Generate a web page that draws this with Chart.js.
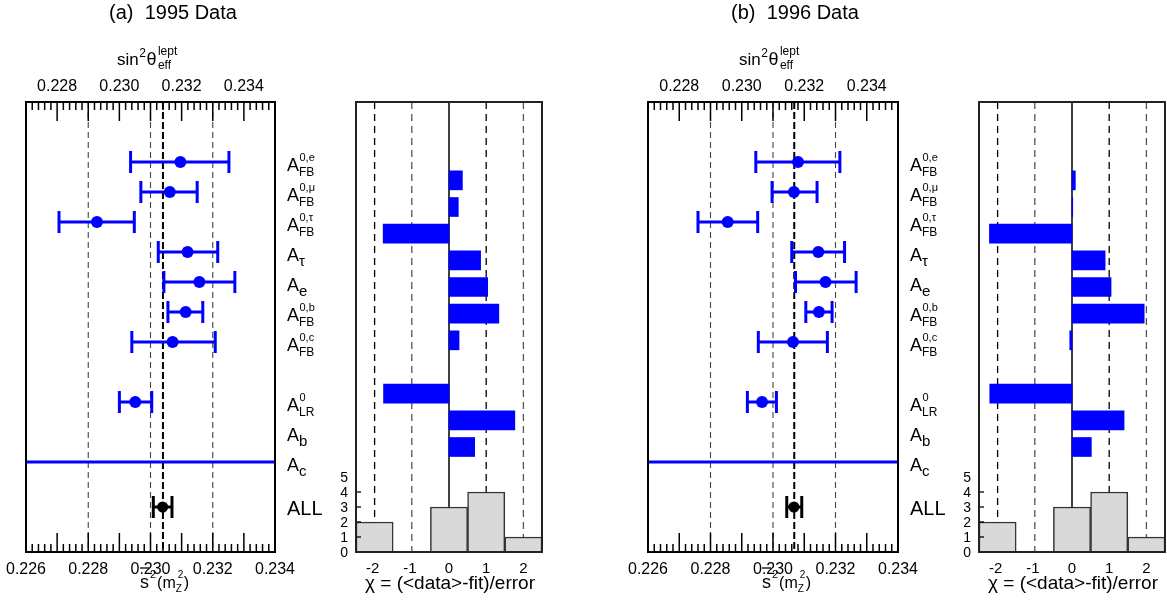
<!DOCTYPE html>
<html><head><meta charset="utf-8">
<script src="https://cdn.jsdelivr.net/npm/chart.js@4"></script>
<style>
html,body{margin:0;padding:0;background:#fff;}
#wrap{position:relative;width:1167px;height:605px;overflow:hidden;background:#fff;}
canvas{position:absolute;left:0;top:0;}
</style></head><body><div id="wrap">
<canvas id="la" width="1167" height="605"></canvas>
<canvas id="ca" width="1167" height="605"></canvas>
<canvas id="ha" width="1167" height="605"></canvas>
<canvas id="lb" width="1167" height="605"></canvas>
<canvas id="cb" width="1167" height="605"></canvas>
<canvas id="hb" width="1167" height="605"></canvas>
</div>
<script>
// ---------------- DATA ----------------
const panelTitles = ['(a)  1995 Data', '(b)  1996 Data'];
const rowLabelBase = ['A','A','A','A','A','A','A','A','A','A','ALL'];
const rowLabelSup  = ['0,e','0,\u03bc','0,\u03c4','','','0,b','0,c','0','','',''];
const rowLabelSub  = ['FB','FB','FB','\u03c4','e','FB','FB','LR','b','c',''];
const rowPositions = [0,1,2,3,4,5,6,8,9,10,11.5];

// s^2 values and error bar ends (null = off scale)
const s2_1995   = [0.23096,0.23062,0.22828,0.23119,0.23157,0.23113,0.23071,0.22951,null,null,0.23039];
const s2Lo_1995 = [0.22936,0.22969,0.22706,0.23025,0.23043,0.23056,0.22940,0.22900,null,0.2150,0.23009];
const s2Hi_1995 = [0.23252,0.23150,0.22948,0.23216,0.23271,0.23168,0.23208,0.23004,null,0.2450,0.23069];
const fit_1995  = 0.23040;

const s2_1996   = [0.23080,0.23067,0.22855,0.23145,0.23168,0.23147,0.23064,0.22965,null,null,0.23067];
const s2Lo_1996 = [0.22945,0.22997,0.22760,0.23060,0.23072,0.23105,0.22953,0.22918,null,0.2150,0.23044];
const s2Hi_1996 = [0.23214,0.23141,0.22951,0.23229,0.23266,0.23189,0.23174,0.23011,null,0.2450,0.23092];
const fit_1996  = 0.23068;

// pulls chi = (<data>-fit)/error, rows 0..9
const chi_1995 = [0.36,0.25,-1.77,0.85,1.04,1.34,0.27,-1.76,1.77,0.69];
const chi_1996 = [0.09,0.02,-2.22,0.89,1.05,1.94,-0.06,-2.21,1.40,0.52];

// histogram of chi
const histLabels = ['-2','-1','0','1','2'];
const hist_1995 = [2,0,3,4,1];
const hist_1996 = [2,0,3,4,1];

// axis tick labels
const s2GridLines   = [0.228,0.230,0.232];
const bottomTicks   = [0.226,0.228,0.230,0.232,0.234];
const topTicks      = [0.228,0.230,0.232,0.234];
const chiTicks      = [-2,-1,0,1,2];
const countTicks    = [0,1,2,3,4,5];

// ---------------- LAYOUT ----------------
const W = 1167, H = 605;
const TOP = 102, BOT = 552, HIST_TOP = 477;
const panels = [
  {l:26,  r:275, cl:356, cr:542,  vals:s2_1995, lo:s2Lo_1995, hi:s2Hi_1995, fit:fit_1995, chi:chi_1995, hist:hist_1995, title:panelTitles[0], ids:['la','ca','ha']},
  {l:648, r:898, cl:979, cr:1165, vals:s2_1996, lo:s2Lo_1996, hi:s2Hi_1996, fit:fit_1996, chi:chi_1996, hist:hist_1996, title:panelTitles[1], ids:['lb','cb','hb']}
];
const FONT = '"Liberation Sans", Arial, Helvetica, sans-serif';
const BLUE = '#0000ff';

function line(ctx,x1,y1,x2,y2){ctx.beginPath();ctx.moveTo(x1,y1);ctx.lineTo(x2,y2);ctx.stroke();}
function text(ctx,s,x,y,size,align){ctx.font=size+'px '+FONT;ctx.textAlign=align||'left';ctx.textBaseline='alphabetic';ctx.fillStyle='#000';ctx.fillText(s,x,y);return ctx.measureText(s).width;}

function rowLabel(ctx,x,y,i){
  const base=rowLabelBase[i], sup=rowLabelSup[i], sub=rowLabelSub[i];
  if(base==='ALL'){ text(ctx,base,x,y+8,20); return; }
  const w = text(ctx,base,x,y+8.5,18);
  if(sup) text(ctx,sup,x+w+0.5,y-1.5,11);
  if(sub){ if(sub.length>1) text(ctx,sub,x+w,y+14,12); else text(ctx,sub,x+w,y+14,15); }
}

const common = {animation:false,responsive:false,devicePixelRatio:1,events:[],
  plugins:{legend:{display:false},tooltip:{enabled:false},title:{display:false}}};

function pts(vals,from,to){const o=[];for(let i=from;i<to;i++){if(vals[i]!=null)o.push({x:vals[i],y:rowPositions[i]});}return o;}

panels.forEach(p=>{
  // ---------- left s^2 panel ----------
  const leftPlugin = {
    id:'leftPanel',
    beforeDatasetsDraw(chart){
      const {ctx,chartArea:a,scales:{x,y}} = chart;
      ctx.save();
      ctx.beginPath();ctx.rect(a.left,a.top,a.right-a.left,a.bottom-a.top);ctx.clip();
      ctx.setLineDash([6,4]);ctx.strokeStyle='#444';ctx.lineWidth=1.1;
      s2GridLines.forEach(v=>{const px=x.getPixelForValue(v);line(ctx,px,a.top,px,a.bottom);});
      ctx.setLineDash([7,3]);ctx.strokeStyle='#000';ctx.lineWidth=2;
      const fx=x.getPixelForValue(p.fit);line(ctx,fx,a.top,fx,a.bottom);
      ctx.setLineDash([]);
      rowPositions.forEach((r,i)=>{
        if(p.lo[i]==null)return;
        const py=y.getPixelForValue(r);
        const xl=x.getPixelForValue(p.lo[i]), xr=x.getPixelForValue(p.hi[i]);
        ctx.strokeStyle = i===10?'#000':BLUE; ctx.lineWidth=3;
        line(ctx,xl,py,xr,py);
        [xl,xr].forEach(cx=>{ if(cx>a.left&&cx<a.right) line(ctx,cx,py-11,cx,py+11); });
      });
      ctx.restore();
    },
    afterDraw(chart){
      const {ctx,chartArea:a,scales:{x,x2,y}} = chart;
      ctx.save();
      // ticks (inward)
      ctx.strokeStyle='#000';ctx.lineWidth=1.5;
      for(let k=1;k<40;k++){
        const v=0.226+k*0.0002, px=x.getPixelForValue(v), len=(k%5===0)?19:8;
        line(ctx,px,a.bottom,px,a.bottom-len);
        const vt=0.227+k*0.0002, pt=x2.getPixelForValue(vt);
        line(ctx,pt,a.top,pt,a.top+len);
      }
      ctx.lineWidth=2;ctx.strokeRect(a.left,a.top,a.right-a.left,a.bottom-a.top);
      bottomTicks.forEach(v=>text(ctx,v.toFixed(3),x.getPixelForValue(v),574,16,'center'));
      topTicks.forEach(v=>text(ctx,v.toFixed(3),x2.getPixelForValue(v),91,16,'center'));
      // top axis title sin^2 theta_eff^lept
      let tx=a.left+91, ty=65;
      tx+=text(ctx,'sin',tx,ty,17);
      tx+=text(ctx,'2',tx+0.5,ty-8,12)+1;
      tx+=text(ctx,'\u03b8',tx,ty,18);
      text(ctx,'lept',tx+1.5,ty-10,12);
      text(ctx,'eff',tx+1.5,ty+4,12);
      // bottom axis title  s-bar^2 (m_Z^2)
      let bx=a.left+114, by=588;
      const sw=text(ctx,'s',bx,by,18);
      ctx.lineWidth=1.3;line(ctx,bx,by-20,bx+sw,by-20);
      bx+=sw;
      bx+=text(ctx,'2',bx+1,by-10,11)+2;
      bx+=text(ctx,'(m',bx,by,16);
      const zw=text(ctx,'Z',bx,by+4,10);
      const tw=text(ctx,'2',bx+2,by-10,10);
      bx+=Math.max(zw,tw+2)+0.5;
      text(ctx,')',bx,by,16);
      // panel title
      text(ctx,p.title,a.left+147,19,20,'center');
      // row labels
      rowPositions.forEach((r,i)=>rowLabel(ctx,a.right+12,y.getPixelForValue(r),i));
      ctx.restore();
    }
  };
  new Chart(document.getElementById(p.ids[0]),{
    type:'scatter',
    data:{datasets:[
      {data:pts(p.vals,0,10),pointRadius:6,pointBackgroundColor:BLUE,pointBorderColor:BLUE,pointBorderWidth:0,showLine:false},
      {data:pts(p.vals,10,11),pointRadius:5.5,pointBackgroundColor:'#000',pointBorderColor:'#000',pointBorderWidth:0,showLine:false}
    ]},
    options:Object.assign({},common,{
      layout:{padding:{left:p.l,right:W-p.r,top:TOP,bottom:H-BOT}},
      scales:{
        x:{type:'linear',min:0.226,max:0.234,display:false},
        x2:{type:'linear',min:0.227,max:0.235,display:false,position:'top'},
        y:{type:'linear',min:-2,max:13,reverse:true,display:false}
      }
    }),
    plugins:[leftPlugin]
  });

  // ---------- chi pull panel ----------
  const chiPlugin = {
    id:'chiPanel',
    beforeDatasetsDraw(chart){
      const {ctx,chartArea:a,scales:{x}} = chart;
      ctx.save();
      chiTicks.forEach(v=>{
        const px=x.getPixelForValue(v);
        if(v===0){ctx.setLineDash([]);ctx.strokeStyle='#000';ctx.lineWidth=1.5;}
        else {ctx.setLineDash([7,5]);ctx.strokeStyle=(v===-1||v===2)?'#555':'#000';ctx.lineWidth=1.3;}
        line(ctx,px,a.top,px,a.bottom);
      });
      ctx.restore();
    }
  };
  const chiChart = new Chart(document.getElementById(p.ids[1]),{
    type:'bar',
    data:{datasets:[{data:p.chi.map((v,i)=>({x:v,y:rowPositions[i]})),backgroundColor:BLUE,borderWidth:0,barThickness:19}]},
    options:Object.assign({},common,{
      indexAxis:'y',
      layout:{padding:{left:p.cl,right:W-p.cr,top:TOP,bottom:H-BOT}},
      scales:{
        x:{type:'linear',min:-2.5,max:2.5,display:false},
        y:{type:'linear',min:-2,max:13,reverse:true,display:false}
      }
    }),
    plugins:[chiPlugin]
  });

  // ---------- histogram ----------
  const histPlugin = {
    id:'histPanel',
    afterDraw(chart){
      const {ctx,chartArea:a,scales:{y}} = chart;
      const ca = chiChart.chartArea, cx = chiChart.scales.x;
      ctx.save();
      ctx.strokeStyle='#000';ctx.lineWidth=1.3;
      countTicks.forEach(n=>{
        const py=y.getPixelForValue(n);
        if(n>0&&n<5) line(ctx,ca.left,py,ca.left+5,py);
        text(ctx,String(n),ca.left-8,py+5,14,'right');
      });
      ctx.lineWidth=2;ctx.strokeStyle='#222';
      ctx.strokeRect(ca.left,ca.top,ca.right-ca.left,ca.bottom-ca.top);
      chiTicks.forEach(v=>text(ctx,String(v),cx.getPixelForValue(v)+(v<0?-2:0),573,15,'center'));
      text(ctx,'\u03c7 = (<data>-fit)/error',(ca.left+ca.right)/2+1,589,19,'center');
      ctx.restore();
    }
  };
  new Chart(document.getElementById(p.ids[2]),{
    type:'bar',
    data:{labels:histLabels,datasets:[{data:p.hist,backgroundColor:'#d9d9d9',borderColor:'#333',borderWidth:1.5,barPercentage:1,categoryPercentage:1}]},
    options:Object.assign({},common,{
      layout:{padding:{left:p.cl,right:W-p.cr,top:HIST_TOP,bottom:H-BOT}},
      scales:{
        x:{type:'category',display:false},
        y:{type:'linear',min:0,max:5,display:false}
      }
    }),
    plugins:[histPlugin]
  });
});
</script>
</body></html>
